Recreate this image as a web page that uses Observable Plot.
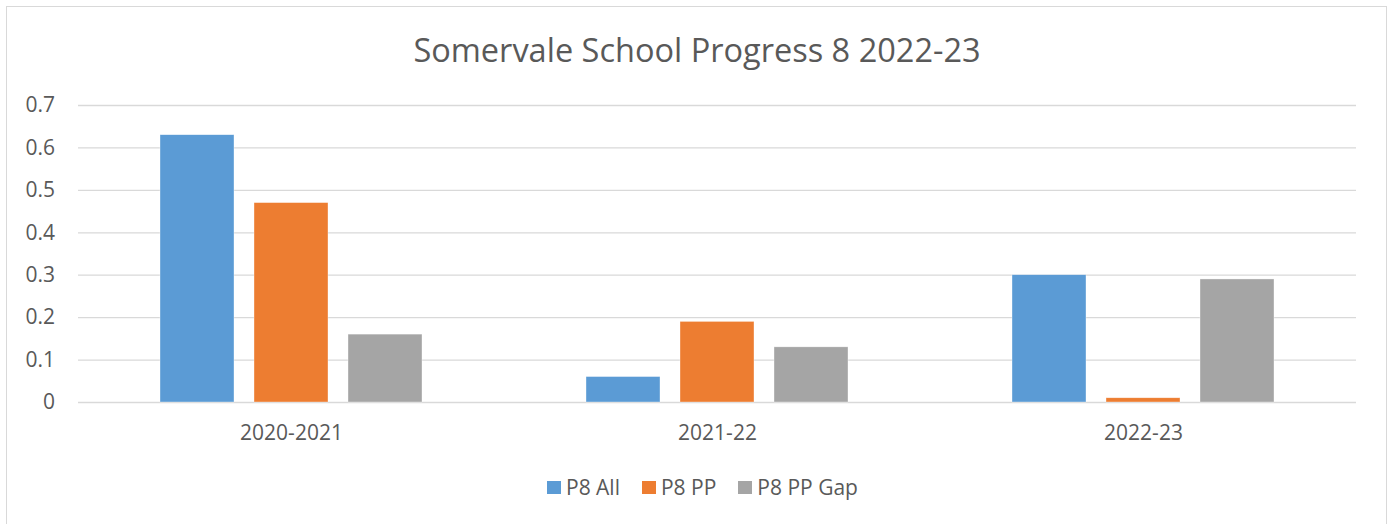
<!DOCTYPE html>
<html>
<head>
<meta charset="utf-8">
<script src="https://cdn.jsdelivr.net/npm/d3@7"></script>
<script src="https://cdn.jsdelivr.net/npm/@observablehq/plot@0.6"></script>
<style>
  html, body { margin: 0; padding: 0; background: #fff; overflow: hidden; }
  #page { position: relative; width: 1394px; height: 524px; font-family: "Open Sans", sans-serif; color: #595959; }
  #frame { position: absolute; left: 6px; top: 6px; width: 1381px; height: 600px; border: 1.5px solid #D9D9D9; box-sizing: border-box; }
  #title { position: absolute; left: 0; width: 1394px; top: 34px; text-align: center; font-size: 32.5px; line-height: 32px; white-space: nowrap; }
  #chart { position: absolute; left: 0; top: 0; }
  #legend { position: absolute; left: 547px; top: 477px; display: flex; align-items: center; font-size: 21px; line-height: 20px; white-space: nowrap; }
  .item { display: flex; align-items: center; margin-right: 22px; }
  .sw { width: 14px; height: 13px; margin-right: 5px; }
</style>
</head>
<body>
<div id="page">
  <div id="frame"></div>
  <div id="chart"></div>
  <div id="title"></div>
  <div id="legend"></div>
</div>
<script>
const titleText = "Somervale School Progress 8 2022-23";
const categories = ["2020-2021", "2021-22", "2022-23"];
const seriesNames = ["P8 All", "P8 PP", "P8 PP Gap"];
const p8All = [0.63, 0.06, 0.30];
const p8PP = [0.47, 0.19, 0.01];
const p8PPGap = [0.16, 0.13, 0.29];
const yTicks = [0, 0.1, 0.2, 0.3, 0.4, 0.5, 0.6, 0.7];
const colors = ["#5B9BD5", "#ED7D31", "#A5A5A5"];

const seriesValues = [p8All, p8PP, p8PPGap];
const data = [];
categories.forEach((c, i) => {
  seriesNames.forEach((s, j) => data.push({year: c, series: s, value: seriesValues[j][i]}));
});

document.getElementById("title").textContent = titleText;

const chart = Plot.plot({
  width: 1394,
  height: 460,
  marginLeft: 77,
  marginRight: 37,
  marginTop: 105,
  marginBottom: 58,
  style: {fontFamily: "Open Sans, sans-serif", fontSize: "21px", color: "#595959", background: "transparent", overflow: "visible"},
  fx: {domain: categories, padding: 0, label: null},
  x: {domain: seriesNames, paddingInner: 0.21, paddingOuter: 0.86, axis: null},
  y: {domain: [0, 0.7], label: null},
  color: {domain: seriesNames, range: colors},
  marks: [
    Plot.gridY(yTicks, {stroke: "#D9D9D9", strokeOpacity: 1, strokeWidth: 1.3}),
    Plot.barY(data, {fx: "year", x: "series", y: "value", fill: "series", stroke: "#ffffff", strokeWidth: 0.6, strokeOpacity: 0.6}),
    Plot.axisY(yTicks, {tickSize: 0, tickPadding: 23.5, label: null, fill: "#595959",
      tickFormat: d => d === 0 ? "0" : d.toFixed(1)}),
    Plot.axisFx({anchor: "bottom", tickSize: 0, tickPadding: 23, label: null, fill: "#595959"})
  ]
});
document.getElementById("chart").appendChild(chart);

const legend = document.getElementById("legend");
seriesNames.forEach((s, i) => {
  const item = document.createElement("div");
  item.className = "item";
  const sw = document.createElement("div");
  sw.className = "sw";
  sw.style.background = colors[i];
  const label = document.createElement("span");
  label.textContent = s;
  item.appendChild(sw);
  item.appendChild(label);
  legend.appendChild(item);
});
</script>
</body>
</html>
